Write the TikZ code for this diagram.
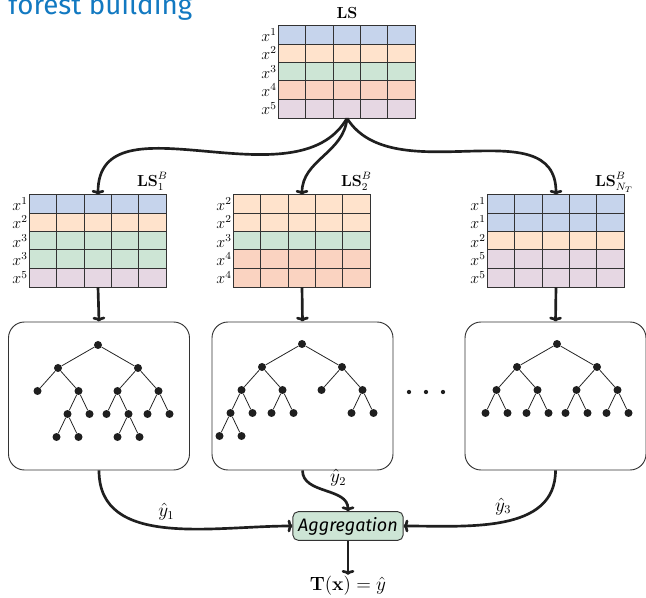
\documentclass[tikz,border=0pt]{standalone}
\usepackage{amsmath}
\usepackage[no-math]{fontspec}
\newfontfamily\fira{Fira Sans}
\usepackage{tikz}
\usetikzlibrary{calc,arrows.meta,positioning}
\definecolor{row1}{HTML}{C6D4EC}
\definecolor{row2}{HTML}{FFE3CC}
\definecolor{row3}{HTML}{CDE5D5}
\definecolor{row4}{HTML}{FAD3C1}
\definecolor{row5}{HTML}{E6D7E3}
\definecolor{gridc}{HTML}{333333}
\definecolor{titlec}{HTML}{1279C1}
\tikzset{
  ar/.style={-{To[length=3.6pt,width=9.5pt]},line width=2pt,black!88},
  tab/.style={minimum width=102.75pt,minimum height=69pt,inner sep=0pt},
  gl/.style={gridc,line width=0.8pt},
  frame/.style={draw=black!80,line width=0.7pt,rounded corners=12pt,minimum width=135.75pt,minimum height=111pt},
  dot/.style={circle,fill=black!88,minimum size=6pt,inner sep=0pt},
  yl/.style={black,font=\fontsize{13.5}{15}\selectfont},
  agg/.style={draw=black!80,line width=0.7pt,rounded corners=4pt,fill=row3,inner xsep=4pt,minimum height=21.5pt,font=\fira\itshape\fontsize{13.5}{15}\selectfont}
}
% #1 name, #2 centre, #3 index of x in each row
\newcommand{\lstab}[3]{%
  \node[tab] (#1) at #2 {};
  \foreach \r [count=\i from 0] in {#3}{
    \fill[row\r] ($(#1.north west)+(0,\i*18.4)$) rectangle ++(137,18.4);
    \node[anchor=east,inner sep=1pt] at ($(#1.north west)+(0,\i*18.4+9.2)$) {$x^{\r}$};
  }
  \foreach \c in {1,...,4}{
    \draw[gl] ($(#1.north west)+(\c*27.4,0)$) -- ++(0,92);
    \draw[gl] ($(#1.north west)+(0,\c*18.4)$) -- ++(137,0);
  }
  \draw[gl] (#1.north west) rectangle (#1.south east);
}

\begin{document}
\begin{tikzpicture}[x=0.75pt,y=-0.75pt,font=\fontsize{12}{14}\selectfont]
\useasboundingbox (0,0) rectangle (646,598);
\node[anchor=base west,inner sep=0pt,text=titlec,font=\fira\fontsize{20.8}{22}\selectfont] (title) at (8,15) {forest building};

% learning set and bootstrap samples
\lstab{ls}{(347,72)}{1,2,3,4,5}
\node[anchor=base] (lsl) at ($(ls.north)+(0,-7)$) {$\mathbf{LS}$};
\lstab{sa}{(98,241)}{1,2,3,3,5}
\lstab{sb}{(302,241)}{2,2,3,4,4}
\lstab{sc}{(556,241)}{1,1,2,5,5}
\node[anchor=base west,inner sep=0pt] (sal) at ($(sa.north east)+(-30,-8)$) {$\mathbf{LS}^{B}_{1}$};
\node[anchor=base west,inner sep=0pt] (sbl) at ($(sb.north east)+(-30,-8)$) {$\mathbf{LS}^{B}_{2}$};
\node[anchor=base west,inner sep=0pt] (scl) at ($(sc.north east)+(-30,-8)$) {$\mathbf{LS}^{B}_{N_T}$};

% trees
\node[frame] (fa) at (99,396) {};
\node[frame] (fb) at (302.5,396) {};
\node[frame] (fc) at (555.5,396) {};
\foreach \x in {409,426,443} \fill[black!88] (\x,392) circle (1.6pt);

\begin{scope}[every node/.style={dot},level distance=17.25pt,
  level 1/.style={sibling distance=60pt},level 2/.style={sibling distance=30.75pt},
  level 3/.style={sibling distance=16.5pt},level 4/.style={sibling distance=16.5pt},
  edge from parent/.style={draw,line width=0.6pt,black!85}]
\node (ta) at (98,345) {}
  child {node {}
    child {node {}}
    child {node {}
      child {node {} child {node {}} child {node {}}}
      child {node {}}}}
  child {node {}
    child {node {}
      child {node {}}
      child {node {} child {node {}} child {node {}}}}
    child {node {} child {node {}} child {node {}}}};
\node (tb) at (302,344) {}
  child {node {}
    child {node {}
      child {node {} child {node {}} child {node {}}}
      child {node {}}}
    child {node {} child {node {}} child {node {}}}}
  child {node {}
    child {node {}}
    child {node {} child {node {}} child {node {}}}};
\node (tc) at (557,344) {}
  child foreach \a in {1,2} {node {}
    child foreach \b in {1,2} {node {}
      child foreach \c in {1,2} {node {}}}};
\end{scope}

% aggregation
\node[agg] (agg) at (348,526) {Aggregation};
\node[inner sep=1pt,font=\fontsize{13.5}{15}\selectfont] (res) at (348,586) {$\mathbf{T}(\mathbf{x}) = \hat{y}$};

\draw[ar] (ls.south) to[out=-120,in=90] (sa.north);
\draw[ar] (ls.south) to[out=-95,in=90] (sb.north);
\draw[ar] (ls.south) to[out=-58,in=90] (sc.north);
\foreach \s/\f in {sa/fa,sb/fb,sc/fc} \draw[ar] (\s.south) -- (\f.north);
\draw[ar] (fa.south) to[out=-90,in=180] node[above=1pt,yl]{$\hat{y}_1$} (agg.west);
\draw[ar] (fb.south) to[out=-90,in=90] node[above right=-1pt,yl]{$\hat{y}_2$} (agg.north);
\draw[ar] (fc.south) to[out=-90,in=0] node[above=1pt,yl]{$\hat{y}_3$} (agg.east);
\draw[ar] (agg.south) -- (res.north);
\end{tikzpicture}
\end{document}
